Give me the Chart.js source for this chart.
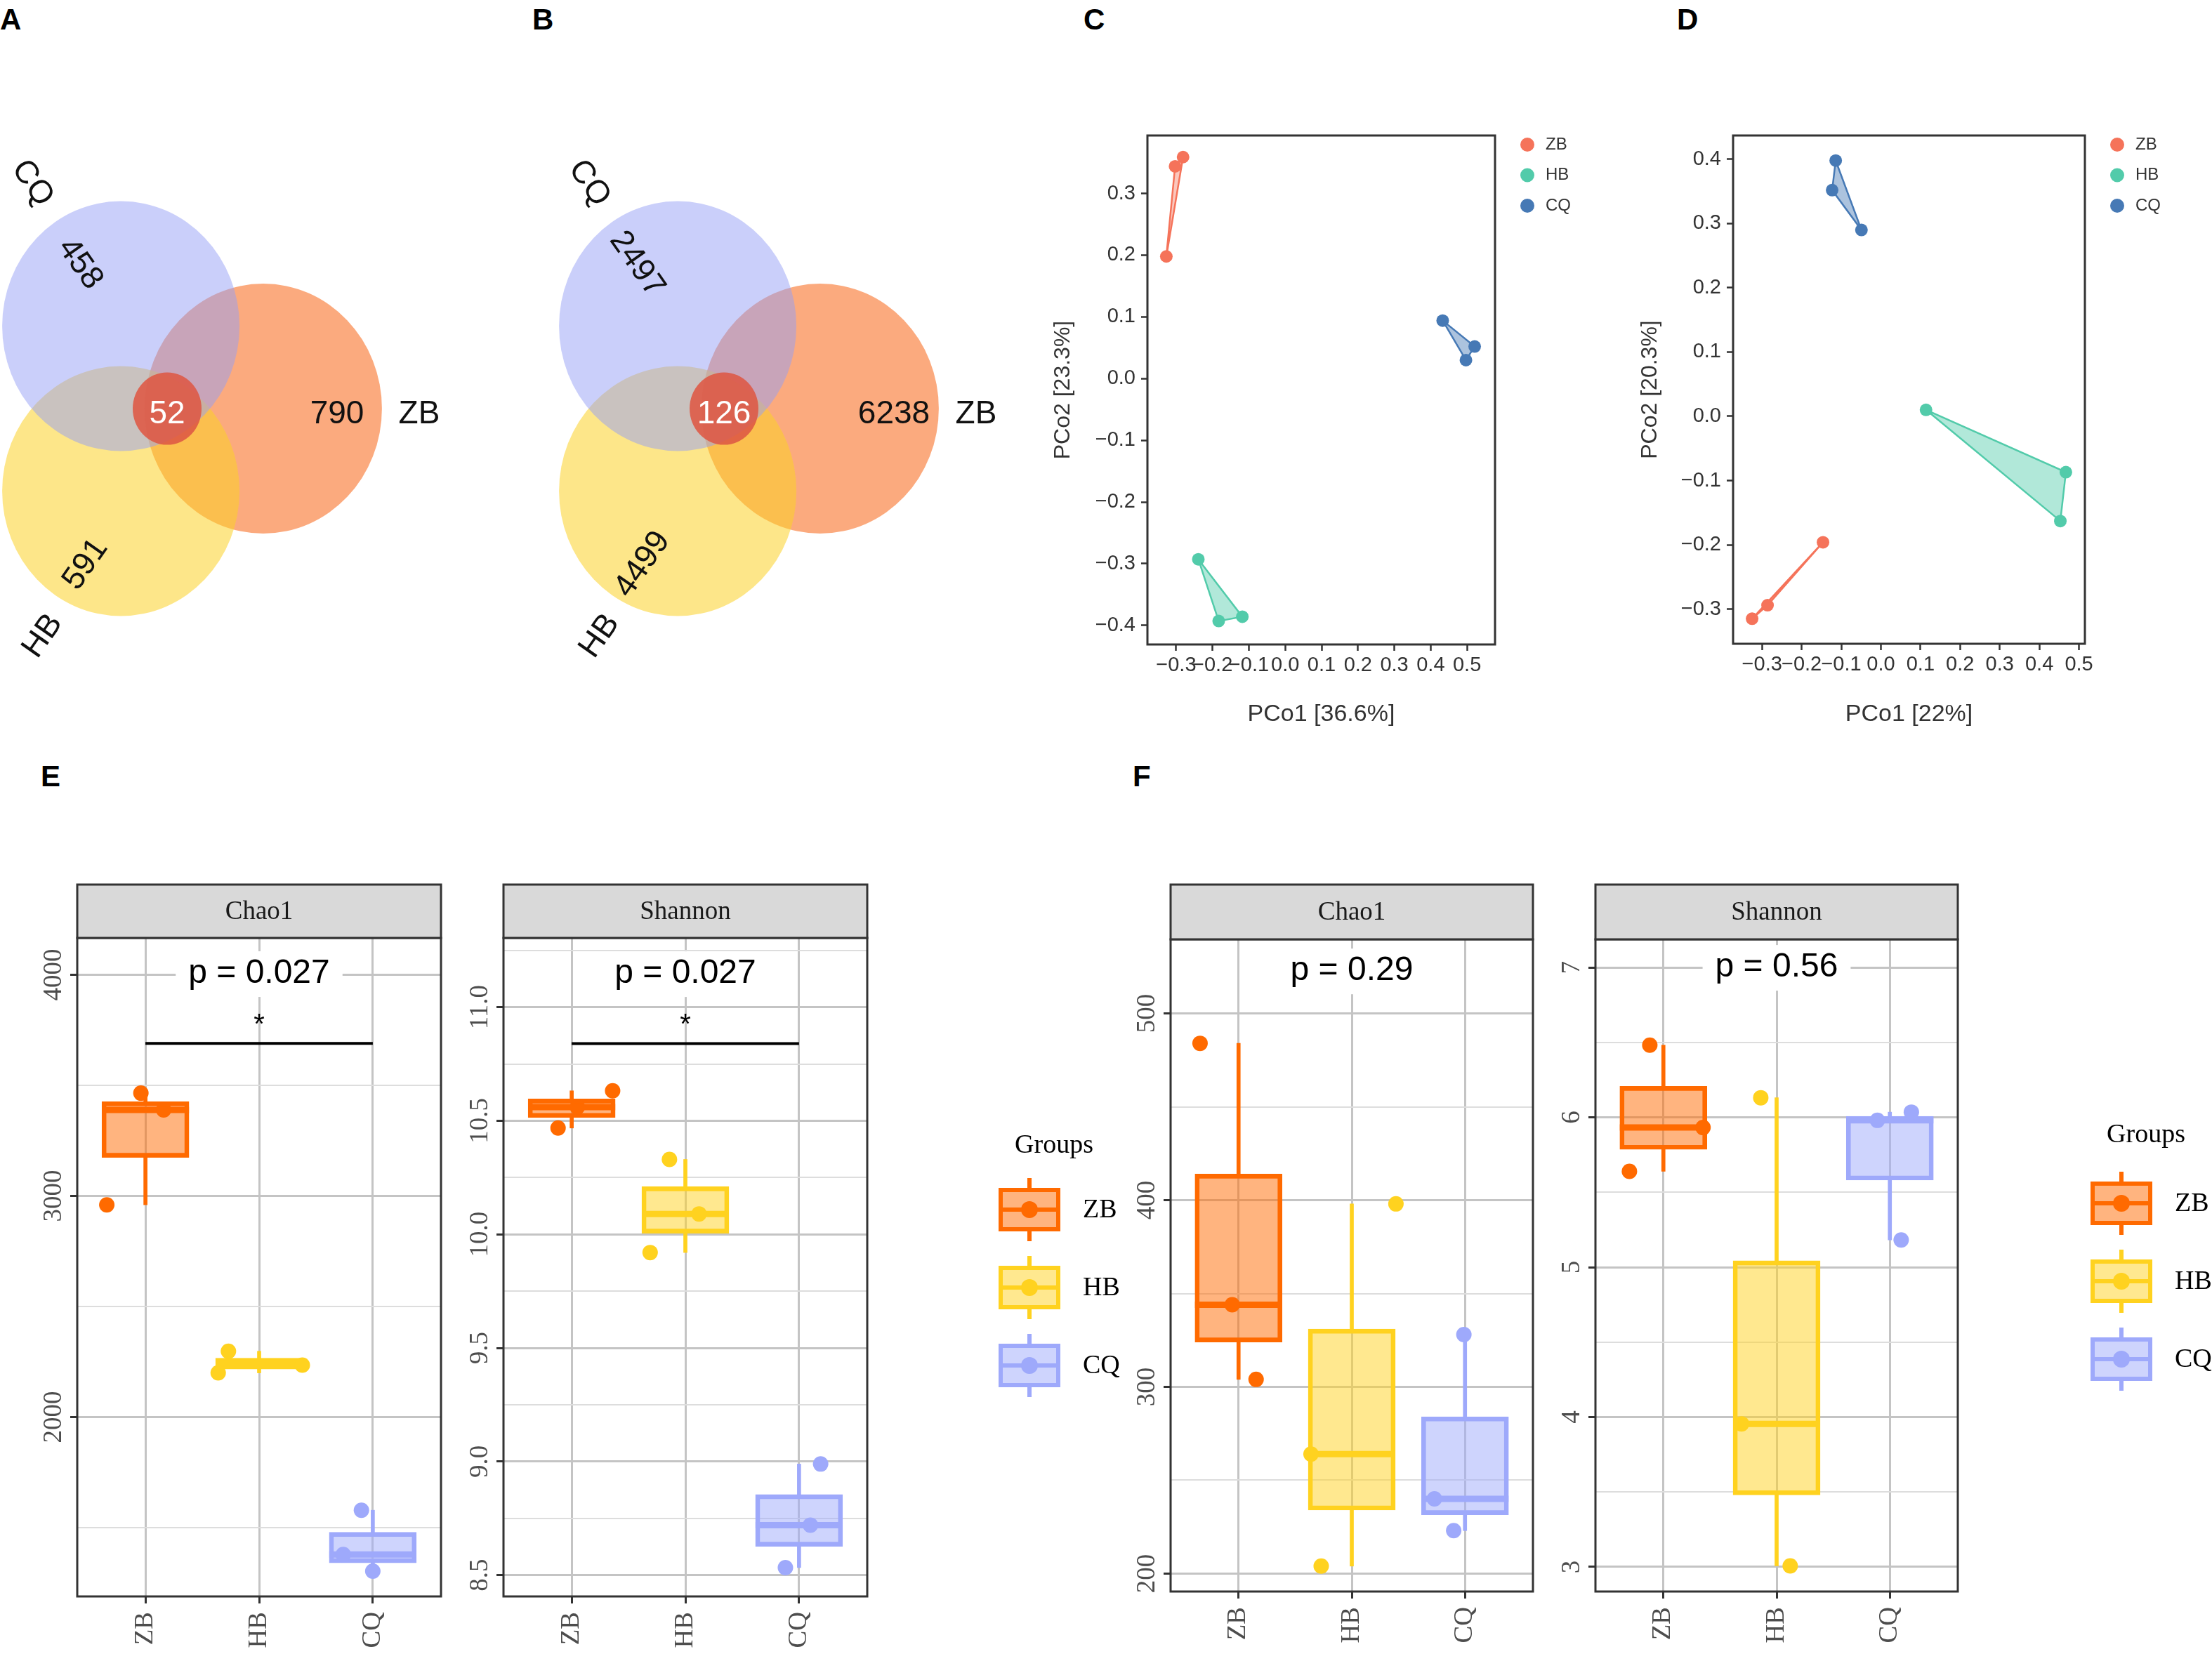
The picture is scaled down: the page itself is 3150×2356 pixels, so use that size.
<!DOCTYPE html>
<html lang="en">
<head>
<meta charset="UTF-8">
<title>Venn, PCoA and alpha diversity</title>
<script src="https://cdn.jsdelivr.net/npm/chart.js"></script>
<style>
  body { margin: 0; background: #fff; }
  #page { position: relative; width: 3150px; height: 2356px; overflow: hidden; background: #fff; }
  canvas { position: absolute; }
  .tag {
    position: absolute;
    font-family: 'Liberation Sans Narrow', 'Liberation Sans', Arial, sans-serif;
    font-weight: bold; font-size: 42px; line-height: 42px; color: #000;
  }
</style>
</head>
<body>
<div id="page">
  <div class="tag" style="left:0px;top:7px">A</div>
  <div class="tag" style="left:758px;top:7px">B</div>
  <div class="tag" style="left:1543px;top:7px">C</div>
  <div class="tag" style="left:2388px;top:7px">D</div>
  <div class="tag" style="left:58px;top:1085px">E</div>
  <div class="tag" style="left:1613px;top:1085px">F</div>

  <canvas id="vennA" width="720" height="800" style="left:0px;top:200px"></canvas>
  <canvas id="vennB" width="720" height="800" style="left:793px;top:200px"></canvas>
  <canvas id="pcoaC" width="880" height="920" style="left:1460px;top:150px"></canvas>
  <canvas id="pcoaD" width="850" height="920" style="left:2300px;top:150px"></canvas>
  <canvas id="chaoE" width="640" height="1116" style="left:0px;top:1240px"></canvas>
  <canvas id="shanE" width="980" height="1116" style="left:640px;top:1240px"></canvas>
  <canvas id="chaoF" width="605" height="1116" style="left:1590px;top:1240px"></canvas>
  <canvas id="shanF" width="955" height="1116" style="left:2195px;top:1240px"></canvas>
</div>

<script>
const SANS = '"Liberation Sans", Arial, sans-serif';
const SERIF = '"Liberation Serif", "Times New Roman", serif';
Chart.defaults.font.family = SANS;

// ---------- data ----------
const groups = ['ZB', 'HB', 'CQ'];

// Venn counts: [CQ only, ZB only, HB only, shared by all three]
const vennCountsA = [458, 790, 591, 52];
const vennCountsB = [2497, 6238, 4499, 126];

// PCoA scores [PCo1, PCo2], three samples per group
const pcoaC_ZB = [[-0.327, 0.198], [-0.303, 0.344], [-0.281, 0.359]];
const pcoaC_HB = [[-0.239, -0.293], [-0.183, -0.393], [-0.118, -0.386]];
const pcoaC_CQ = [[0.433, 0.094], [0.521, 0.052], [0.497, 0.030]];
const pcoaD_ZB = [[-0.146, -0.196], [-0.286, -0.294], [-0.325, -0.315]];
const pcoaD_HB = [[0.114, 0.010], [0.467, -0.087], [0.453, -0.163]];
const pcoaD_CQ = [[-0.114, 0.398], [-0.123, 0.352], [-0.049, 0.290]];
const pcoaTitlesC = ['PCo1 [36.6%]', 'PCo2 [23.3%]'];
const pcoaTitlesD = ['PCo1 [22%]', 'PCo2 [20.3%]'];
const pcoaTicksX = [-0.3, -0.2, -0.1, 0, 0.1, 0.2, 0.3, 0.4, 0.5];
const pcoaTicksYC = [-0.4, -0.3, -0.2, -0.1, 0, 0.1, 0.2, 0.3];
const pcoaTicksYD = [-0.3, -0.2, -0.1, 0, 0.1, 0.2, 0.3, 0.4];

// alpha diversity, samples per group (ZB, HB, CQ)
const chao1E = [[2960, 3389, 3465], [2200, 2235, 2298], [1303, 1379, 1579]];
const shannonE = [[10.468, 10.56, 10.632], [9.92, 10.09, 10.33], [8.533, 8.72, 8.989]];
const chao1F = [[304, 344, 484], [204, 264, 398], [223, 240, 328]];
const shannonF = [[5.64, 5.932, 6.482], [3.007, 3.955, 6.131], [5.182, 5.98, 6.035]];
// horizontal jitter of the sample dots, category units
const chao1EJitter = [[-0.34, 0.16, -0.04], [-0.36, 0.38, -0.27], [0.0, -0.26, -0.1]];
const shannonEJitter = [[-0.12, 0.05, 0.36], [-0.31, 0.12, -0.14], [-0.12, 0.1, 0.19]];
const chao1FJitter = [[0.155, -0.056, -0.34], [-0.27, -0.36, 0.39], [-0.1, -0.27, -0.01]];
const shannonFJitter = [[-0.3, 0.35, -0.12], [0.12, -0.31, -0.14], [0.1, -0.11, 0.19]];
const pValuesE = ['p = 0.027', 'p = 0.027'];
const pValuesF = ['p = 0.29', 'p = 0.56'];
const chao1ETicks = [2000, 3000, 4000];
const shannonETicks = [8.5, 9.0, 9.5, 10.0, 10.5, 11.0];
const chao1FTicks = [200, 300, 400, 500];
const shannonFTicks = [3, 4, 5, 6, 7];

// ---------- styles ----------
const boxColors = ['#ff6a00', '#ffd21f', '#9ea9fb'];
const boxFills = ['rgba(255,106,0,0.5)', 'rgba(255,210,31,0.5)', 'rgba(158,169,251,0.5)'];
const pcoaColors = ['#f5735a', '#52cbaa', '#4679b5'];
const pcoaFills = ['rgba(245,115,90,0.4)', 'rgba(82,203,170,0.45)', 'rgba(70,121,181,0.45)'];

// ---------- Venn ----------
const vennPlugin = {
  id: 'venn',
  afterDatasetsDraw(chart, args, o) {
    const {ctx} = chart, xs = chart.scales.x, ys = chart.scales.y;
    const px = v => xs.getPixelForValue(v), py = v => ys.getPixelForValue(v);
    const ell = (cx, cy, r, fill) => {
      ctx.beginPath();
      ctx.ellipse(px(cx), py(cy), Math.abs(px(cx + r) - px(cx)), Math.abs(py(cy + r) - py(cy)), 0, 0, Math.PI * 2);
      ctx.fillStyle = fill;
      ctx.fill();
    };
    const txt = (s, x, y, deg, color) => {
      ctx.save();
      ctx.translate(px(x), py(y));
      ctx.rotate(deg * Math.PI / 180);
      ctx.fillStyle = color;
      ctx.fillText(s, 0, 0);
      ctx.restore();
    };
    ctx.save();
    ell(0.81, 0, 1, 'rgba(248,100,20,0.55)');     // ZB
    ell(-0.39, -0.66, 1, 'rgba(252,210,40,0.55)'); // HB
    ell(-0.39, 0.66, 1, 'rgba(150,160,245,0.5)');  // CQ
    ell(0, 0, 0.29, 'rgba(222,88,68,0.88)');
    ctx.font = '46px ' + SANS;
    ctx.textAlign = 'center';
    ctx.textBaseline = 'middle';
    const c = o.counts;
    txt(String(c[0]), -0.734, 1.157, 55, '#111');
    txt(String(c[1]), 1.432, -0.045, 0, '#111');
    txt(String(c[2]), -0.686, -1.247, -55, '#111');
    txt(String(c[3]), 0, -0.045, 0, '#fff');
    txt('CQ', -1.136, 1.803, 55, '#111');
    txt('ZB', 2.124, -0.045, 0, '#111');
    txt('HB', -1.047, -1.82, -55, '#111');
    ctx.restore();
  }
};

function vennChart(id, counts) {
  new Chart(document.getElementById(id), {
    type: 'scatter',
    data: { datasets: [{ data: [{x: 0.81, y: 0}, {x: -0.39, y: -0.66}, {x: -0.39, y: 0.66}], pointRadius: 0 }] },
    options: {
      responsive: false, animation: false, events: [], devicePixelRatio: 1,
      layout: { padding: 0 },
      scales: {
        x: { display: false, min: -238 / 169, max: -238 / 169 + 720 / 169 },
        y: { display: false, min: 382 / 178 - 800 / 178, max: 382 / 178 }
      },
      plugins: { legend: { display: false }, tooltip: { enabled: false }, venn: { counts } }
    },
    plugins: [vennPlugin]
  });
}

// ---------- PCoA ----------
const fmtSigned = v => (v < -1e-9 ? '\u2212' : '') + Math.abs(v).toFixed(1);

const pcoaPlugin = {
  id: 'pcoa',
  afterDraw(chart) {
    const {ctx, chartArea: a} = chart;
    ctx.save();
    ctx.strokeStyle = '#333';
    ctx.lineWidth = 3;
    ctx.strokeRect(a.left, a.top, a.right - a.left, a.bottom - a.top);
    ctx.font = '24px ' + SANS;
    ctx.textBaseline = 'middle';
    ctx.textAlign = 'left';
    groups.forEach((g, i) => {
      const y = a.top + 13 + i * 43.5;
      ctx.fillStyle = pcoaColors[i];
      ctx.beginPath();
      ctx.arc(a.right + 46, y, 10, 0, Math.PI * 2);
      ctx.fill();
      ctx.fillStyle = '#333';
      ctx.fillText(g, a.right + 72, y);
    });
    ctx.restore();
  }
};

function pcoaChart(id, sets, o) {
  const datasets = [];
  sets.forEach((pts, g) => {
    const xy = pts.map(p => ({x: p[0], y: p[1]}));
    datasets.push({ data: xy, pointRadius: 9, pointBackgroundColor: pcoaColors[g], pointBorderWidth: 0, order: 0 });
    datasets.push({
      data: xy.concat([xy[0]]), showLine: true, fill: 'shape', pointRadius: 0,
      borderColor: pcoaColors[g], borderWidth: 2.5, backgroundColor: pcoaFills[g], order: 1
    });
  });
  const tickFont = { family: SANS, size: 29 };
  new Chart(document.getElementById(id), {
    type: 'scatter',
    data: { datasets },
    options: {
      responsive: false, animation: false, events: [], devicePixelRatio: 1,
      layout: { padding: { left: 0, top: 43, right: o.padRight, bottom: 0 } },
      scales: {
        x: {
          min: o.xMin, max: o.xMax,
          afterBuildTicks: s => { s.ticks = pcoaTicksX.map(v => ({value: v})); },
          afterFit: s => { s.height = o.xH; },
          ticks: { font: tickFont, color: '#333', padding: 4, autoSkip: false, minRotation: 0, maxRotation: 0, callback: fmtSigned },
          grid: { drawOnChartArea: false, tickLength: 9, tickColor: '#333', tickWidth: 2.5 },
          border: { display: false },
          title: { display: true, text: o.titles[0], font: { family: SANS, size: 34 }, color: '#333', padding: { top: 0, bottom: 32 } }
        },
        y: {
          min: o.yMin, max: o.yMax,
          afterBuildTicks: s => { s.ticks = o.yTicks.map(v => ({value: v})); },
          afterFit: s => { s.width = o.yW; },
          ticks: { font: tickFont, color: '#333', padding: 8, autoSkip: false, callback: fmtSigned },
          grid: { drawOnChartArea: false, tickLength: 9, tickColor: '#333', tickWidth: 2.5 },
          border: { display: false },
          title: { display: true, text: o.titles[1], font: { family: SANS, size: 32 }, color: '#333', padding: { top: o.yTitlePad, bottom: 0 } }
        }
      },
      plugins: { legend: { display: false }, tooltip: { enabled: false } }
    },
    plugins: [pcoaPlugin]
  });
}

// ---------- box plots ----------
function quantile(sorted, p) {
  const h = (sorted.length - 1) * p, lo = Math.floor(h);
  return lo + 1 < sorted.length ? sorted[lo] + (h - lo) * (sorted[lo + 1] - sorted[lo]) : sorted[lo];
}

function drawLegendKey(ctx, x, y, w, h, g) {
  const cx = x + w / 2, cy = y + h / 2;
  ctx.strokeStyle = boxColors[g];
  ctx.lineWidth = 6;
  ctx.beginPath();
  ctx.moveTo(cx, y - 14); ctx.lineTo(cx, y);
  ctx.moveTo(cx, y + h); ctx.lineTo(cx, y + h + 14);
  ctx.stroke();
  ctx.fillStyle = boxFills[g];
  ctx.fillRect(x + 3, y + 3, w - 6, h - 6);
  ctx.strokeRect(x + 3, y + 3, w - 6, h - 6);
  ctx.beginPath();
  ctx.moveTo(x + 3, cy); ctx.lineTo(x + w - 3, cy);
  ctx.stroke();
  ctx.fillStyle = boxColors[g];
  ctx.beginPath();
  ctx.arc(cx, cy, 12, 0, Math.PI * 2);
  ctx.fill();
}

const facetPlugin = {
  id: 'facet',
  afterDatasetDraw(chart, args, o) {
    if (args.index !== 1) return;
    const {ctx} = chart, xs = chart.scales.x, ys = chart.scales.y;
    ctx.save();
    ctx.lineWidth = 9;
    o.stats.forEach((s, g) => {
      const cx = xs.getPixelForValue(g + 1), py = ys.getPixelForValue(s.med);
      ctx.strokeStyle = boxColors[g];
      ctx.beginPath();
      ctx.moveTo(cx - o.boxW / 2, py);
      ctx.lineTo(cx + o.boxW / 2, py);
      ctx.stroke();
    });
    ctx.restore();
  },
  afterDraw(chart, args, o) {
    const {ctx, chartArea: a} = chart, xs = chart.scales.x, ys = chart.scales.y;
    ctx.save();
    // p value with white backing
    ctx.font = '48px ' + SANS;
    ctx.textAlign = 'center';
    ctx.textBaseline = 'middle';
    const tw = ctx.measureText(o.p).width;
    const mx = xs.getPixelForValue(2), py = ys.getPixelForValue(o.pY);
    ctx.fillStyle = '#fff';
    const top = Math.max(a.top + 2, py - 32);
    ctx.fillRect(mx - tw / 2 - 18, top, tw + 36, py + 33 - top);
    ctx.fillStyle = '#000';
    ctx.fillText(o.p, mx, py);
    // significance bracket
    if (o.bracketY != null) {
      const by = ys.getPixelForValue(o.bracketY);
      ctx.strokeStyle = '#000';
      ctx.lineWidth = 4;
      ctx.beginPath();
      ctx.moveTo(xs.getPixelForValue(1), by);
      ctx.lineTo(xs.getPixelForValue(3), by);
      ctx.stroke();
      ctx.font = '40px ' + SANS;
      ctx.textBaseline = 'alphabetic';
      ctx.fillText('*', mx, by - 14);
    }
    // panel frame and strip
    ctx.strokeStyle = '#333';
    ctx.lineWidth = 3;
    ctx.strokeRect(a.left, a.top, a.right - a.left, a.bottom - a.top);
    ctx.fillStyle = '#d9d9d9';
    ctx.fillRect(a.left, a.top - o.stripH, a.right - a.left, o.stripH);
    ctx.strokeRect(a.left, a.top - o.stripH, a.right - a.left, o.stripH);
    ctx.fillStyle = '#1a1a1a';
    ctx.font = '37px ' + SERIF;
    ctx.textBaseline = 'middle';
    ctx.fillText(o.strip, (a.left + a.right) / 2, a.top - o.stripH / 2 + 1);
    // rotated y tick labels
    ctx.fillStyle = '#4d4d4d';
    ctx.textBaseline = 'alphabetic';
    o.ticks.forEach(v => {
      ctx.save();
      ctx.translate(a.left - 23, ys.getPixelForValue(v));
      ctx.rotate(-Math.PI / 2);
      ctx.fillText(o.fmt(v), 0, 0);
      ctx.restore();
    });
    // legend
    if (o.legend) {
      const L = o.legend;
      ctx.fillStyle = '#000';
      ctx.font = '38px ' + SERIF;
      ctx.textAlign = 'center';
      ctx.textBaseline = 'middle';
      ctx.fillText('Groups', a.right + L.titleX, a.top + L.titleY);
      groups.forEach((g, i) => {
        const ky = a.top + L.keyY + i * 111;
        drawLegendKey(ctx, a.right + L.keyX, ky, 88, 62, i);
        ctx.fillStyle = '#000';
        ctx.textAlign = 'left';
        ctx.fillText(g, a.right + L.keyX + 88 + 32, ky + 32);
      });
    }
    ctx.restore();
  }
};

function facetChart(id, values, jitter, o) {
  const stats = values.map(v => {
    const s = [...v].sort((p, q) => p - q);
    return { min: s[0], q1: quantile(s, 0.25), med: quantile(s, 0.5), q3: quantile(s, 0.75), max: s[s.length - 1] };
  });
  const points = [];
  values.forEach((v, g) => v.forEach((val, k) => points.push({ x: g + 1 + jitter[g][k], y: val, g })));
  const boxes = stats.map((s, g) => ({ x: g + 1, y: [s.q1, s.q3], g }));
  const whiskers = [];
  stats.forEach((s, g) => {
    whiskers.push({ x: g + 1, y: [s.min, s.q1], g });
    whiskers.push({ x: g + 1, y: [s.q3, s.max], g });
  });
  const step = o.ticks[1] - o.ticks[0];
  const minor = [];
  for (let v = o.ticks[0] - step / 2; v <= o.ticks[o.ticks.length - 1] + step; v += step) {
    if (v > o.yMin && v < o.yMax) minor.push(+v.toFixed(4));
  }
  const isMajor = v => o.ticks.some(t => Math.abs(t - v) < 1e-6);
  const boxW = 124;
  const pick = (arr, c) => (c.raw ? arr[c.raw.g] : arr[0]);

  new Chart(document.getElementById(id), {
    type: 'scatter',
    data: {
      datasets: [
        { data: points, pointRadius: 11, pointBorderWidth: 0, pointBackgroundColor: c => pick(boxColors, c), order: 0 },
        { type: 'bar', data: boxes, grouped: false, barThickness: boxW, borderWidth: 6, borderSkipped: false,
          backgroundColor: c => pick(boxFills, c), borderColor: c => pick(boxColors, c), order: 1 },
        { type: 'bar', data: whiskers, grouped: false, barThickness: 5, borderWidth: 0,
          backgroundColor: c => pick(boxColors, c), order: 2 }
      ]
    },
    options: {
      responsive: false, animation: false, events: [], devicePixelRatio: 1,
      layout: { padding: { left: 0, top: o.padTop, right: o.padRight, bottom: 0 } },
      scales: {
        x: {
          type: 'linear', min: 0.4, max: 3.6, offset: false,
          afterBuildTicks: s => { s.ticks = [1, 2, 3].map(v => ({ value: v })); },
          afterFit: s => { s.height = o.xH; },
          ticks: { font: { family: SERIF, size: 37 }, color: '#4d4d4d', minRotation: 90, maxRotation: 90,
                   autoSkip: false, padding: 12, callback: v => groups[Math.round(v) - 1] },
          grid: { offset: false, color: '#c4c4c4', lineWidth: 3, tickLength: 10, tickColor: '#333', tickWidth: 3 },
          border: { display: false }
        },
        y: {
          min: o.yMin, max: o.yMax,
          afterBuildTicks: s => { s.ticks = o.ticks.concat(minor).sort((p, q) => p - q).map(v => ({ value: v })); },
          afterFit: s => { s.width = o.yW; },
          ticks: { display: false },
          grid: {
            offset: false,
            color: c => (isMajor(c.tick.value) ? '#c4c4c4' : '#dddddd'),
            lineWidth: c => (isMajor(c.tick.value) ? 3 : 2),
            tickLength: 10,
            tickColor: c => (isMajor(c.tick.value) ? '#333' : 'rgba(0,0,0,0)'),
            tickWidth: 3
          },
          border: { display: false }
        }
      },
      plugins: {
        legend: { display: false }, tooltip: { enabled: false },
        facet: Object.assign({ stats, boxW }, o)
      }
    },
    plugins: [facetPlugin]
  });
}

// ---------- build ----------
vennChart('vennA', vennCountsA);
vennChart('vennB', vennCountsB);

pcoaChart('pcoaC', [pcoaC_ZB, pcoaC_HB, pcoaC_CQ], {
  xMin: -0.379, xMax: 0.577, yMin: -0.431, yMax: 0.394, yTicks: pcoaTicksYC,
  titles: pcoaTitlesC, padRight: 211, xH: 152, yW: 174, yTitlePad: 35
});
pcoaChart('pcoaD', [pcoaD_ZB, pcoaD_HB, pcoaD_CQ], {
  xMin: -0.373, xMax: 0.515, yMin: -0.354, yMax: 0.437, yTicks: pcoaTicksYD,
  titles: pcoaTitlesD, padRight: 181, xH: 153, yW: 168, yTitlePad: 31
});

facetChart('chaoE', chao1E, chao1EJitter, {
  strip: 'Chao1', yMin: 1189, yMax: 4167, ticks: chao1ETicks, fmt: v => String(v),
  yW: 110, xH: 82, padTop: 96, padRight: 12, stripH: 76,
  p: pValuesE[0], pY: 4005, bracketY: 3690
});
facetChart('shanE', shannonE, shannonEJitter, {
  strip: 'Shannon', yMin: 8.406, yMax: 11.305, ticks: shannonETicks, fmt: v => v.toFixed(1),
  yW: 77, xH: 82, padTop: 96, padRight: 385, stripH: 76,
  p: pValuesE[1], pY: 11.147, bracketY: 10.84,
  legend: { titleX: 266, titleY: 296, keyX: 187, keyY: 356 }
});
facetChart('chaoF', chao1F, chao1FJitter, {
  strip: 'Chao1', yMin: 190.4, yMax: 539.7, ticks: chao1FTicks, fmt: v => String(v),
  yW: 77, xH: 89, padTop: 98, padRight: 12, stripH: 78,
  p: pValuesF[0], pY: 522.7, bracketY: null
});
facetChart('shanF', shannonF, shannonFJitter, {
  strip: 'Shannon', yMin: 2.836, yMax: 7.188, ticks: shannonFTicks, fmt: v => String(v),
  yW: 77, xH: 89, padTop: 98, padRight: 362, stripH: 78,
  p: pValuesF[1], pY: 7.0, bracketY: null,
  legend: { titleX: 268, titleY: 279, keyX: 189, keyY: 345 }
});
</script>
</body>
</html>
